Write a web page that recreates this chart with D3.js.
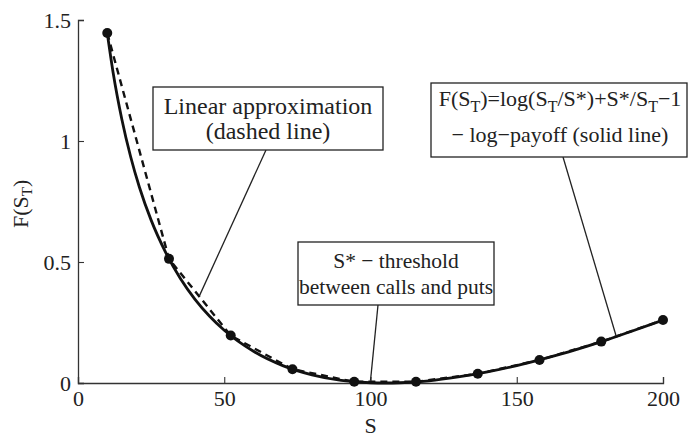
<!DOCTYPE html>
<html>
<head>
<meta charset="utf-8">
<script src="https://cdn.jsdelivr.net/npm/d3@7"></script>
<style>
  html, body { margin: 0; padding: 0; background: #fff; }
  svg text { font-family: "Liberation Serif", "Times New Roman", serif; fill: #222; }
</style>
</head>
<body>
<svg id="chart" width="688" height="440"></svg>
<script>
// Sample points of the linear (piecewise) approximation
const pointS = [10, 31.11, 52.22, 73.33, 94.44, 115.56, 136.67, 157.78, 178.89, 200];
const pointF = [1.446, 0.513, 0.196, 0.057, 0.005, 0.005, 0.038, 0.095, 0.171, 0.260];

// Log-payoff curve
const curveS = [10, 12, 15, 18, 21, 25, 30, 35, 40, 45, 50, 60, 70, 80, 90, 100, 105, 110, 120, 130, 140, 150, 160, 170, 180, 190, 200];
const curveF = [1.446, 1.283, 1.089, 0.935, 0.809, 0.673, 0.539, 0.432, 0.346, 0.276, 0.218, 0.131, 0.072, 0.034, 0.011, 0.001, 0.0, 0.001, 0.009, 0.025, 0.046, 0.072, 0.103, 0.137, 0.175, 0.217, 0.260];

// Axis ticks
const xTicks = [0, 50, 100, 150, 200];
const yTicks = [0, 0.5, 1, 1.5];
const yTickLabels = ["0", "0.5", "1", "1.5"];

const svg = d3.select("#chart");
const x = d3.scaleLinear().domain([0, 200]).range([78, 663]);
const y = d3.scaleLinear().domain([0, 1.5]).range([383, 20]);

// Axes (ticks point inward)
const xAxis = d3.axisBottom(x).tickValues(xTicks).tickSize(-6).tickPadding(7).tickFormat(d3.format("d"));
const yAxis = d3.axisLeft(y).tickValues(yTicks).tickSize(-6).tickPadding(7)
  .tickFormat((d, i) => yTickLabels[i]);

const gx = svg.append("g").attr("transform", `translate(0,${y(0)})`).call(xAxis);
const gy = svg.append("g").attr("transform", `translate(${x(0)},0)`).call(yAxis);
[gx, gy].forEach(g => {
  g.select(".domain").attr("stroke", "#333").attr("stroke-width", 1.3);
  g.selectAll(".tick line").attr("stroke", "#333").attr("stroke-width", 1.1);
  g.selectAll(".tick text").attr("font-family", "Liberation Serif").attr("font-size", 22).attr("fill", "#222");
});

// Axis titles
svg.append("text").attr("x", x(100)).attr("y", 433).attr("text-anchor", "middle")
  .attr("font-size", 22).text("S");
const yl = svg.append("text").attr("transform", `translate(28,${y(0.74)}) rotate(-90)`)
  .attr("text-anchor", "middle").attr("font-size", 22);
yl.append("tspan").text("F(S");
yl.append("tspan").attr("font-size", 15).attr("dy", 4).text("T");
yl.append("tspan").attr("dy", -4).text(")");

// Curves
const solid = d3.line().x(d => x(d[0])).y(d => y(d[1])).curve(d3.curveMonotoneX);
const straight = d3.line().x(d => x(d[0])).y(d => y(d[1]));

svg.append("path").datum(curveS.map((s, i) => [s, curveF[i]]))
  .attr("d", solid).attr("fill", "none").attr("stroke", "#111").attr("stroke-width", 2.8);
svg.append("path").datum(pointS.map((s, i) => [s, pointF[i]]))
  .attr("d", straight).attr("fill", "none").attr("stroke", "#111")
  .attr("stroke-width", 2.4).attr("stroke-dasharray", "7,5");
svg.selectAll("circle.pt").data(pointS.map((s, i) => [s, pointF[i]])).enter()
  .append("circle").attr("class", "pt")
  .attr("cx", d => x(d[0])).attr("cy", d => y(d[1])).attr("r", 5).attr("fill", "#111");

// Annotation helpers: framed text box and a plain leader line to the curve
function box(x0, y0, w, h) {
  svg.append("rect").attr("x", x0).attr("y", y0).attr("width", w).attr("height", h)
    .attr("fill", "#fff").attr("stroke", "#222").attr("stroke-width", 1.3);
}
function leader(x1, y1, sx, sy) {
  svg.append("line").attr("x1", x1).attr("y1", y1).attr("x2", x(sx)).attr("y2", y(sy))
    .attr("stroke", "#222").attr("stroke-width", 1.3);
}
function label(cx, by, size, str) {
  return svg.append("text").attr("x", cx).attr("y", by).attr("text-anchor", "middle")
    .attr("font-size", size).text(str);
}

// Linear approximation note
leader(266, 150, 41.5, 0.36);
box(153, 87, 230, 63);
label(268, 114, 24, "Linear approximation");
label(268, 139, 24, "(dashed line)");

// Threshold note
leader(378, 305, 100, 0.01);
box(298, 242, 196, 63);
label(396, 268, 21.5, "S* \u2212 threshold");
label(396, 294, 21.5, "between calls and puts");

// Log-payoff note
leader(563, 157, 184, 0.193);
box(431, 83, 256, 74);
const t1 = svg.append("text").attr("x", 560).attr("y", 106).attr("text-anchor", "middle").attr("font-size", 22);
t1.append("tspan").text("F(S");
t1.append("tspan").attr("font-size", 16).attr("dy", 6).text("T");
t1.append("tspan").attr("dy", -6).text(")=log(S");
t1.append("tspan").attr("font-size", 16).attr("dy", 6).text("T");
t1.append("tspan").attr("dy", -6).text("/S*)+S*/S");
t1.append("tspan").attr("font-size", 16).attr("dy", 6).text("T");
t1.append("tspan").attr("dy", -6).text("\u22121");
label(560, 142, 22, "\u2212 log\u2212payoff (solid line)");
</script>
</body>
</html>
